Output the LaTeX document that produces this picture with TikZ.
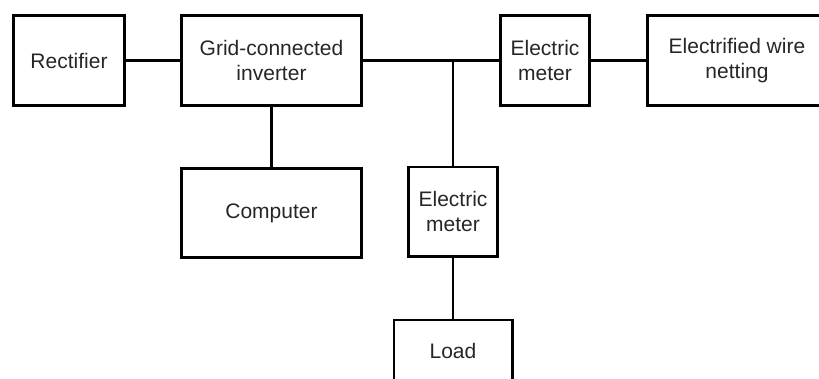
\documentclass[tikz,border=0pt]{standalone}
\usepackage{fontspec}
\setmainfont{Liberation Sans}
\usetikzlibrary{positioning,calc}
\tikzset{ blk/.style={draw,line width=2.6pt,align=center,font=\fontsize{21}{25}\selectfont,text=black!85} }

\begin{document}
\begin{tikzpicture}[line width=2.6pt]
    \useasboundingbox (0,0) rectangle (819pt,-378pt);
    \node[blk,minimum width=111.4pt,minimum height=90.4pt] (rect) at (69pt,-60.5pt) {Rectifier};
    \node[blk,minimum width=180.4pt,minimum height=90.4pt,right=54pt of rect] (inv) {Grid-connected\\inverter};
    \node[blk,minimum width=89.4pt,minimum height=90.4pt,right=136pt of inv] (mtr) {Electric\\meter};
    \node[blk,minimum width=179.4pt,minimum height=90.4pt,right=55pt of mtr] (net) {Electrified wire\\netting};
    \node[blk,minimum width=180.4pt,minimum height=89.4pt,below=60pt of inv] (comp) {Computer};
    \coordinate[right=90pt of inv] (jn);
    \node[blk,minimum width=89.4pt,minimum height=89.4pt,below=105pt of jn] (mtrb) {Electric\\meter};
    \node[blk,minimum width=118.4pt,minimum height=62.4pt,below=61pt of mtrb] (load) {Load};
    \draw (rect) -- (inv);
    \draw (inv) -- (mtr);
    \draw (mtr) -- (net);
    \draw (inv) -- (comp);
    \draw (jn) -- (mtrb);
    \draw (mtrb) -- (load);
\end{tikzpicture}
\end{document}
